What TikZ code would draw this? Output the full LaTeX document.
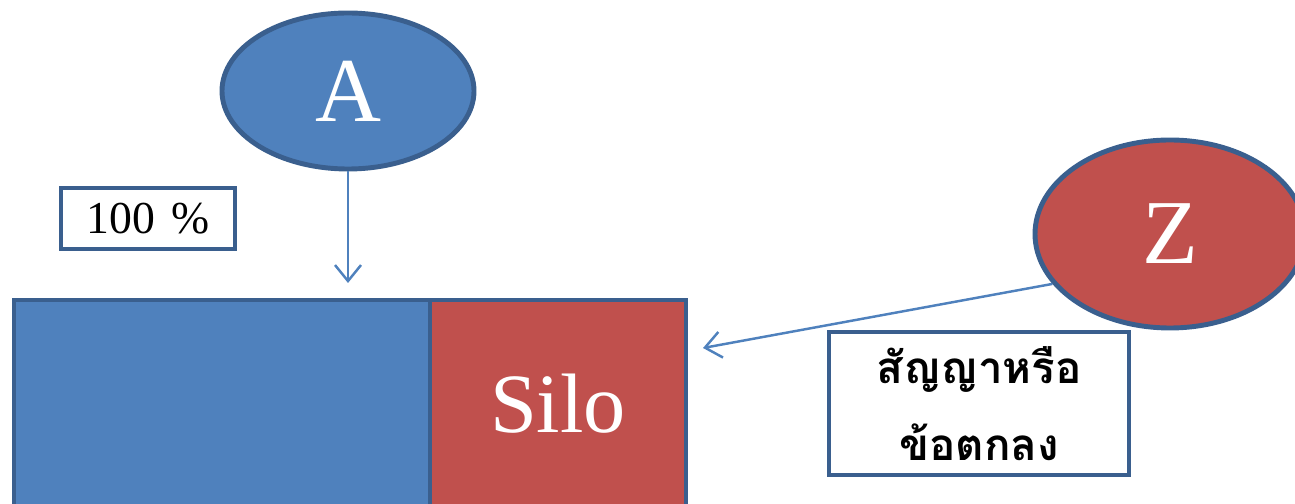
\documentclass[tikz,border=0pt]{standalone}
\usepackage{fontspec}
\setmainfont{Liberation Serif}
\newfontfamily\thaifont[Script=Thai]{Loma}
\usetikzlibrary{shapes.geometric,arrows.meta}
\definecolor{fillblue}{HTML}{4F81BD}
\definecolor{edgeblue}{HTML}{3A5F8E}
\definecolor{fillred}{HTML}{C0504D}
\tikzset{
  bubble/.style={ellipse,draw=edgeblue,line width=2.8pt,inner sep=0pt,text=white,font=\fontsize{52}{56}\selectfont},
  labelbox/.style={rectangle,draw=edgeblue,line width=2.8pt,fill=white,inner sep=0pt},
  block/.style={rectangle,draw=edgeblue,line width=2.8pt,inner sep=0pt,minimum height=4.16cm},
  flow/.style={draw=fillblue,line width=1.4pt,-{Straight Barb[length=3.2mm,width=5.2mm,line width=1.4pt]}}
}
\begin{document}
\begin{tikzpicture}
\useasboundingbox (0,0) rectangle (25.9,10.08);

% lower bar: blue part and silo part
\node[block,fill=fillblue,minimum width=8.32cm] (bar) at (4.44,2.0) {};
\node[block,fill=fillred,minimum width=5.12cm,text=white,font=\fontsize{48}{52}\selectfont] (silo) at (11.16,2.0) {Silo};

% parties
\node[bubble,fill=fillblue,minimum width=5.04cm,minimum height=3.12cm] (A) at (6.96,8.26) {A};
\node[labelbox,minimum width=3.48cm,minimum height=1.22cm,font=\fontsize{26}{28}\selectfont] (pct) at (2.96,5.71) {100\hspace{0.35em}\%};

\coordinate (barin) at (6.96,4.42);
\draw[flow] (A.south) -- (barin);

\node[labelbox,minimum width=6.0cm,minimum height=2.86cm,align=center,font=\thaifont\bfseries\fontsize{25}{44}\selectfont] (deal) at (19.58,2.01) {สัญญาหรือ\\ข้อตกลง};

\node[bubble,fill=fillred,minimum width=5.4cm,minimum height=3.76cm] (Z) at (23.4,5.4) {Z};

\coordinate (siloin) at (14.06,3.12);
\draw[flow] (Z.203) -- (siloin);
\end{tikzpicture}
\end{document}
